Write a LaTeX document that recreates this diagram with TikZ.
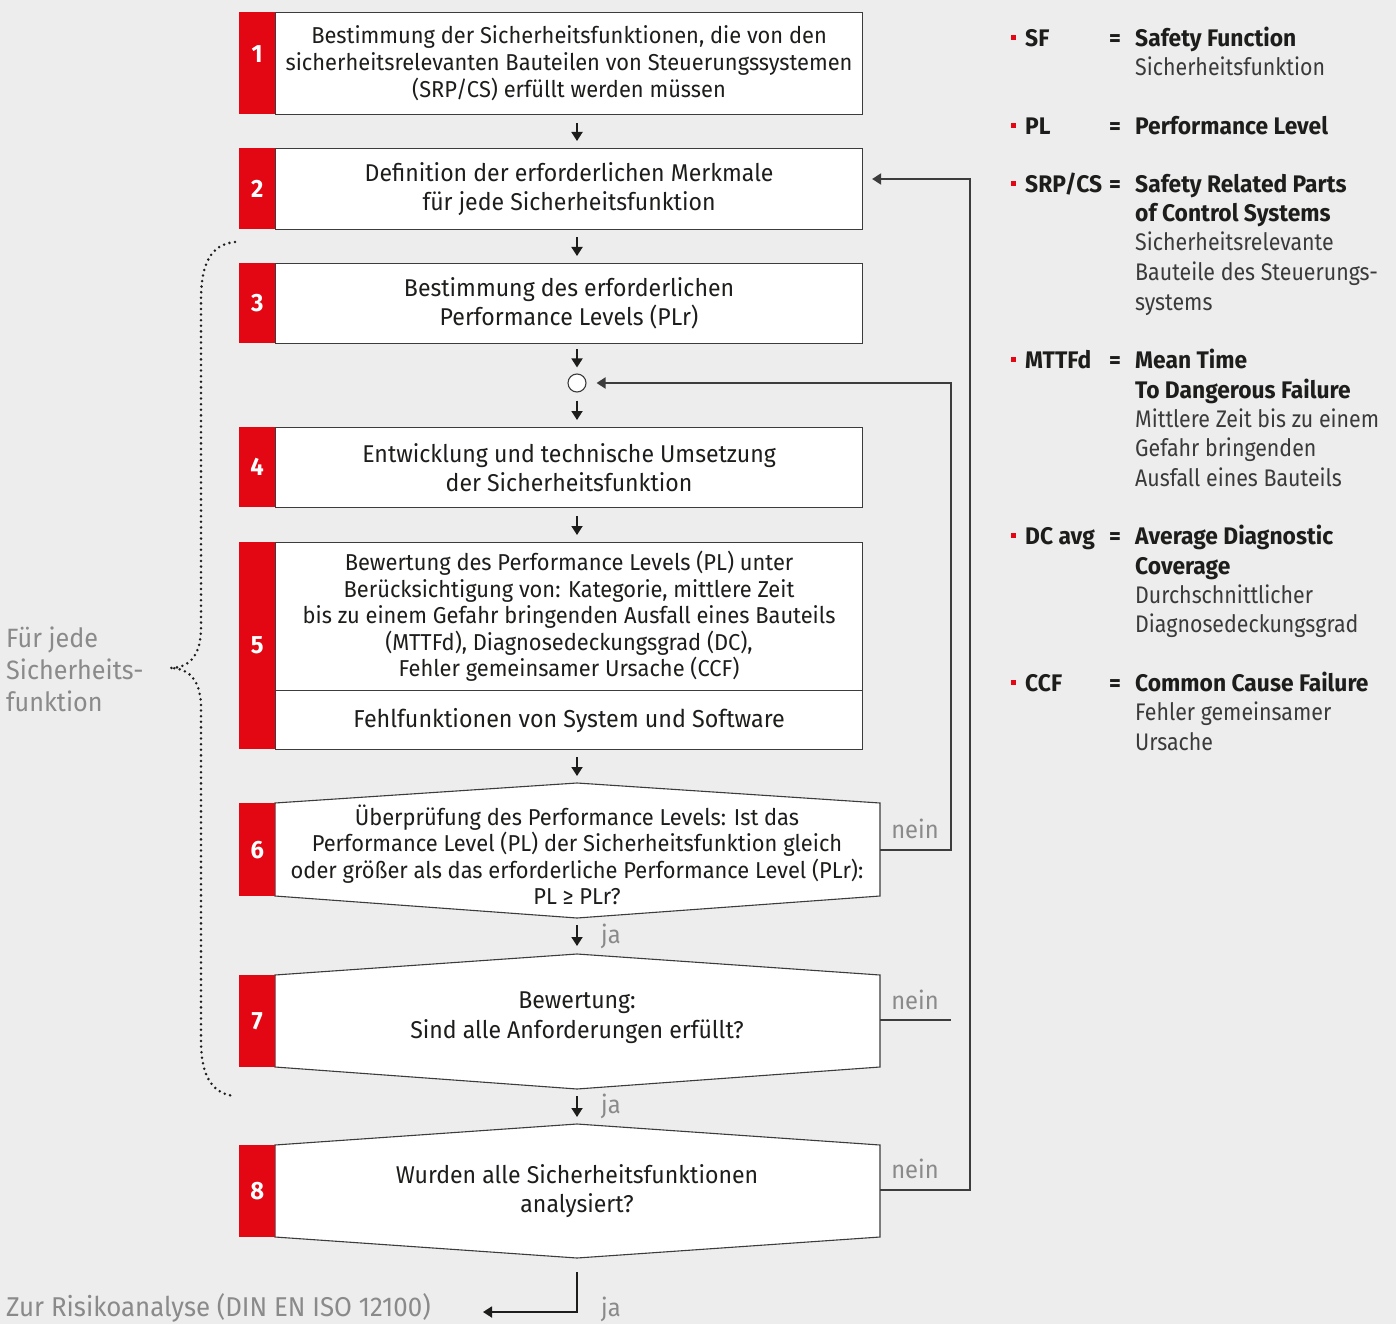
\documentclass[tikz,border=0pt]{standalone}
\usepackage{fontspec}
\setmainfont{Fira Sans}[FakeStretch=0.95]
\newfontfamily\legendplain{Fira Sans}[FakeStretch=0.89]
\usetikzlibrary{positioning,arrows.meta,calc}

\definecolor{bgGray}{HTML}{EDEDED}
\definecolor{tabRed}{HTML}{E30613}
\definecolor{inkDark}{HTML}{1D1D1B}
\definecolor{defGray}{HTML}{3A3A3A}
\definecolor{labelGray}{HTML}{8A8A8A}
\definecolor{lineDark}{HTML}{3C3C3C}

\begin{document}
\begin{tikzpicture}[
    x=1pt, y=-1pt,
    >={Triangle[length=9pt, width=11pt]},
    stepbox/.style={
        rectangle,
        anchor=north west,
        minimum width=587pt,
        draw=lineDark,
        line width=1.1pt,
        fill=white,
        inner sep=0pt,
        align=center,
        text=inkDark,
        font=\fontsize{23}{27}\selectfont
    },
    numtab/.style={
        rectangle,
        anchor=north west,
        minimum width=36pt,
        fill=tabRed,
        inner sep=0pt,
        text=white,
        font=\bfseries\fontsize{25}{28}\selectfont
    },
    hexbox/.style={draw=lineDark, line width=1.1pt, fill=white},
    hextext/.style={
        align=center,
        inner sep=0pt,
        text=inkDark,
        font=\fontsize{23}{26.5}\selectfont
    },
    joint/.style={circle, minimum size=18pt, inner sep=0pt, draw=lineDark, line width=1.1pt, fill=white},
    flow/.style={->, line width=1.8pt, draw=inkDark},
    loopline/.style={line width=2pt, draw=lineDark},
    answer/.style={inner sep=0pt, text=labelGray, font=\fontsize{25}{29}\selectfont},
    brace/.style={line width=2.8pt, draw=inkDark, line cap=round, dash pattern=on 0pt off 5.6pt},
    bullet/.style={rectangle, minimum size=5pt, inner sep=0pt, fill=tabRed},
    abbr/.style={anchor=base west, inner sep=0pt, text=inkDark, font=\bfseries\fontsize{24}{29}\selectfont},
    eqsign/.style={anchor=base, inner sep=0pt, text=inkDark, font=\bfseries\fontsize{24}{29}\selectfont},
    defbold/.style={anchor=base west, inner sep=0pt, text=inkDark, font=\bfseries\fontsize{24}{29}\selectfont},
    defplain/.style={anchor=base west, inner sep=0pt, text=defGray, font=\legendplain\fontsize{24}{29}\selectfont}
]

% --- Hintergrund ---
\fill[bgGray] (0,0) rectangle (1396,1324);
\useasboundingbox (0,0) rectangle (1396,1324);

\coordinate (axis) at (577,0);

% --- Schritte 1 bis 5 ---
\node[stepbox, minimum height=102pt] (b1) at (275,12)
    {Bestimmung der Sicherheitsfunktionen, die von den\\
     sicherheitsrelevanten Bauteilen von Steuerungssystemen\\
     (SRP/CS) erfüllt werden müssen};
\node[numtab, minimum height=102pt] (t1) at (239,12) {\raisebox{18pt}{1}};

\node[stepbox, minimum height=81pt, font=\fontsize{24.3}{29}\selectfont] (b2) at (275,148)
    {Definition der erforderlichen Merkmale\\für jede Sicherheitsfunktion};
\node[numtab, minimum height=81pt] (t2) at (239,148) {2};

\node[stepbox, minimum height=80pt, font=\fontsize{24.3}{29}\selectfont] (b3) at (275,263)
    {Bestimmung des erforderlichen\\Performance Levels (PLr)};
\node[numtab, minimum height=80pt] (t3) at (239,263) {3};

\node[joint] (join) at (577,383) {};

\node[stepbox, minimum height=80pt, font=\fontsize{24.3}{29}\selectfont] (b4) at (275,427)
    {Entwicklung und technische Umsetzung\\der Sicherheitsfunktion};
\node[numtab, minimum height=80pt] (t4) at (239,427) {4};

\node[stepbox, minimum height=148pt, font=\fontsize{23}{26.5}\selectfont] (b5) at (275,542)
    {Bewertung des Performance Levels (PL) unter\\
     Berücksichtigung von: Kategorie, mittlere Zeit\\
     bis zu einem Gefahr bringenden Ausfall eines Bauteils\\
     (MTTFd), Diagnosedeckungsgrad (DC),\\
     Fehler gemeinsamer Ursache (CCF)};
\node[stepbox, minimum height=59pt, font=\fontsize{24.5}{29}\selectfont] (b5x) at (275,690)
    {Fehlfunktionen von System und Software};
\node[numtab, minimum height=207pt] (t5) at (239,542) {5};

% --- Abfragen 6 bis 8 ---
\coordinate (h6t) at (577,783);
\coordinate (h6b) at (577,918);
\coordinate (h6r) at (880,850);
\draw[hexbox] (275,803) -- (h6t) -- (880,803) -- (880,896) -- (h6b) -- (275,896) -- cycle;
\node[hextext] (q6) at (577,855)
    {Überprüfung des Performance Levels: Ist das\\
     Performance Level (PL) der Sicherheitsfunktion gleich\\
     oder größer als das erforderliche Performance Level (PLr):\\
     PL ≥ PLr?};
\node[numtab, minimum height=93pt] (t6) at (239,803) {6};

\coordinate (h7t) at (577,954);
\coordinate (h7b) at (577,1089);
\coordinate (h7r) at (880,1020);
\draw[hexbox] (275,975) -- (h7t) -- (880,975) -- (880,1067) -- (h7b) -- (275,1067) -- cycle;
\node[hextext, font=\fontsize{24.3}{30}\selectfont] (q7) at (577,1018)
    {Bewertung:\\Sind alle Anforderungen erfüllt?};
\node[numtab, minimum height=92pt] (t7) at (239,975) {7};

\coordinate (h8t) at (577,1124);
\coordinate (h8b) at (577,1258);
\coordinate (h8r) at (880,1190);
\draw[hexbox] (275,1145) -- (h8t) -- (880,1145) -- (880,1237) -- (h8b) -- (275,1237) -- cycle;
\node[hextext, font=\fontsize{24.3}{29}\selectfont] (q8) at (577,1191)
    {Wurden alle Sicherheitsfunktionen\\analysiert?};
\node[numtab, minimum height=92pt] (t8) at (239,1145) {8};

% --- Pfeile abwärts ---
\draw[flow, shorten <=8pt, shorten >=7pt] (b1.south -| axis) -- (b2.north -| axis);
\draw[flow, shorten <=7pt, shorten >=7pt] (b2.south -| axis) -- (b3.north -| axis);
\draw[flow, shorten <=5pt, shorten >=6pt] (b3.south -| axis) -- (join.north);
\draw[flow, shorten <=8pt, shorten >=7pt] (join.south) -- (b4.north -| axis);
\draw[flow, shorten <=8pt, shorten >=7pt] (b4.south -| axis) -- (b5.north -| axis);
\draw[flow, shorten <=7pt, shorten >=7pt] (b5x.south -| axis) -- (h6t);
\draw[flow, shorten <=7pt, shorten >=8pt] (h6b) -- (h7t);
\draw[flow, shorten <=7pt, shorten >=7pt] (h7b) -- (h8t);

\node[answer, anchor=west] (ja6) at (601,936) {ja};
\node[answer, anchor=west] (ja7) at (601,1106) {ja};

% --- Rückführungen (nein) ---
\coordinate (fbInner) at (951,0);
\coordinate (fbOuter) at (970,179);
\draw[loopline, ->, shorten >=10pt] (h6r) -| (fbInner |- join) -- (join.east);
\draw[loopline] (h7r) -- (h7r -| fbInner);
\draw[loopline, ->, shorten >=9pt] (h8r) -| (fbOuter) -- (b2.east |- fbOuter);

\node[answer] (nein6) at (915,829) {nein};
\node[answer] (nein7) at (915,1000) {nein};
\node[answer] (nein8) at (915,1169) {nein};

% --- Ausgang ---
\coordinate (exitTip) at (483,1312);
\draw[flow, shorten <=14pt] (h8b) |- (exitTip);
\node[answer, anchor=west] (ja8) at (601,1309) {ja};
\node[answer, anchor=west, font=\fontsize{27.2}{30}\selectfont] (risk) at (6,1308)
    {Zur Risikoanalyse (DIN EN ISO 12100)};

% --- Klammer für jede Sicherheitsfunktion ---
\coordinate (braceTop) at (235,242);
\coordinate (braceTip) at (170,668);
\coordinate (braceEnd) at (235,1096);
\draw[brace] (braceTop) .. controls (212,244) and (201,262) .. (201,300)
    -- (201,628) .. controls (201,652) and (192,668) .. (braceTip)
    .. controls (192,668) and (201,684) .. (201,708)
    -- (201,1040) .. controls (201,1076) and (212,1094) .. (braceEnd);
\node[answer, anchor=west, align=left, font=\fontsize{26.5}{32}\selectfont] (sfLabel) at (6,669)
    {Für jede\\Sicherheits-\\funktion};

% --- Legende ---
\node[bullet] (lb1) at (1013,37.5) {};
\node[abbr] (la1) at (1025,46.5) {SF};
\node[eqsign] (le1) at (1115,46.5) {=};
\node[defbold] (ld1) at (1135,46.5) {Safety Function};
\node[defplain] (ld1a) at (1135,75.5) {Sicherheitsfunktion};

\node[bullet] (lb2) at (1013,125.5) {};
\node[abbr] (la2) at (1025,134.5) {PL};
\node[eqsign] (le2) at (1115,134.5) {=};
\node[defbold] (ld2) at (1135,134.5) {Performance Level};

\node[bullet] (lb3) at (1013,183.5) {};
\node[abbr] (la3) at (1025,192.5) {SRP/CS};
\node[eqsign] (le3) at (1115,192.5) {=};
\node[defbold] (ld3) at (1135,192.5) {Safety Related Parts};
\node[defbold] (ld3a) at (1135,221.5) {of Control Systems};
\node[defplain] (ld3b) at (1135,251) {Sicherheitsrelevante};
\node[defplain] (ld3c) at (1135,280.5) {Bauteile des Steuerungs-};
\node[defplain] (ld3d) at (1135,310) {systems};

\node[bullet] (lb4) at (1013,359.5) {};
\node[abbr] (la4) at (1025,368.5) {MTTFd};
\node[eqsign] (le4) at (1115,368.5) {=};
\node[defbold] (ld4) at (1135,368.5) {Mean Time};
\node[defbold] (ld4a) at (1135,398) {To Dangerous Failure};
\node[defplain] (ld4b) at (1135,427) {Mittlere Zeit bis zu einem};
\node[defplain] (ld4c) at (1135,456.5) {Gefahr bringenden};
\node[defplain] (ld4d) at (1135,486) {Ausfall eines Bauteils};

\node[bullet] (lb5) at (1013,535.5) {};
\node[abbr] (la5) at (1025,544.5) {DC avg};
\node[eqsign] (le5) at (1115,544.5) {=};
\node[defbold] (ld5) at (1135,544.5) {Average Diagnostic};
\node[defbold] (ld5a) at (1135,574) {Coverage};
\node[defplain] (ld5b) at (1135,603) {Durchschnittlicher};
\node[defplain] (ld5c) at (1135,632.5) {Diagnosedeckungsgrad};

\node[bullet] (lb6) at (1013,682) {};
\node[abbr] (la6) at (1025,691) {CCF};
\node[eqsign] (le6) at (1115,691) {=};
\node[defbold] (ld6) at (1135,691) {Common Cause Failure};
\node[defplain] (ld6a) at (1135,720.5) {Fehler gemeinsamer};
\node[defplain] (ld6b) at (1135,750) {Ursache};

\end{tikzpicture}
\end{document}
